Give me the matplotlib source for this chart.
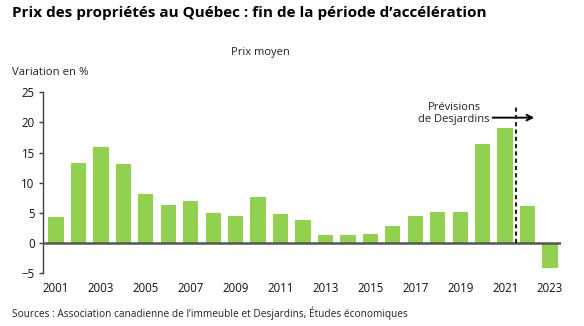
import matplotlib
matplotlib.use("Agg")
import matplotlib.pyplot as plt

plt.rcParams['font.family'] = ['Open Sans', 'DejaVu Sans']

# Donnees
annees = list(range(2001, 2024))
variation = [4.3, 13.2, 16.0, 13.1, 8.2, 6.4, 7.0, 5.0, 4.5, 7.7, 4.9, 3.8,
             1.4, 1.4, 1.45, 2.9, 4.5, 5.2, 5.2, 16.5, 19.0, 6.2, -4.1]
yticks = [-5, 0, 5, 10, 15, 20, 25]
xticks = list(range(2001, 2024, 2))
debut_prevision = 2021.5

vert = "#92D050"
gris = "#404040"

fig = plt.figure(figsize=(5.84, 3.26), dpi=100)
ax = fig.add_axes([0.0736, 0.1617, 0.887, 0.5552])

ax.bar(annees, variation, width=0.68, color=vert, zorder=2)
ax.axhline(0, color="#555555", linewidth=1.8, zorder=3)

# Ligne des previsions
ax.plot([debut_prevision, debut_prevision], [0, 22.9], color="#222222",
        linestyle=(0, (2, 1.5)), linewidth=1.5, zorder=4)
ax.annotate("", xy=(2022.3, 20.8), xytext=(2020.45, 20.8),
            arrowprops=dict(arrowstyle="->", color="black", lw=1.4,
                            shrinkA=0, shrinkB=0))
ax.text(2018.73, 21.5, "Prévisions\nde Desjardins", ha="center", va="center",
        fontsize=8, color="#222222", linespacing=1.05)

ax.set_xlim(2000.42, 2023.49)
ax.set_ylim(-5, 25)
ax.set_yticks(yticks)
ax.set_xticks(xticks)
ax.tick_params(axis="y", length=3, width=1, color=gris, labelsize=8.3, pad=3,
               labelcolor="#111111")
ax.tick_params(axis="x", length=0, labelsize=8.3, pad=6, labelcolor="#111111")

for s in ["top", "right", "bottom"]:
    ax.spines[s].set_visible(False)
ax.spines["left"].set_color(gris)
ax.spines["left"].set_linewidth(1)

fig.text(0.02, 0.96, "Prix des propriétés au Québec : fin de la période d\u2019accélération",
         fontsize=11, fontweight="bold", color="black", va="center")
fig.text(0.445, 0.84, "Prix moyen", fontsize=8, ha="center", va="center", color="#222222")
fig.text(0.02, 0.777, "Variation en %", fontsize=8.2, va="center", color="#222222")
fig.text(0.02, 0.04, "Sources : Association canadienne de l\u2019immeuble et Desjardins, Études économiques",
         fontsize=7.3, va="center", color="#222222")

fig.savefig("out.png", dpi=100)
